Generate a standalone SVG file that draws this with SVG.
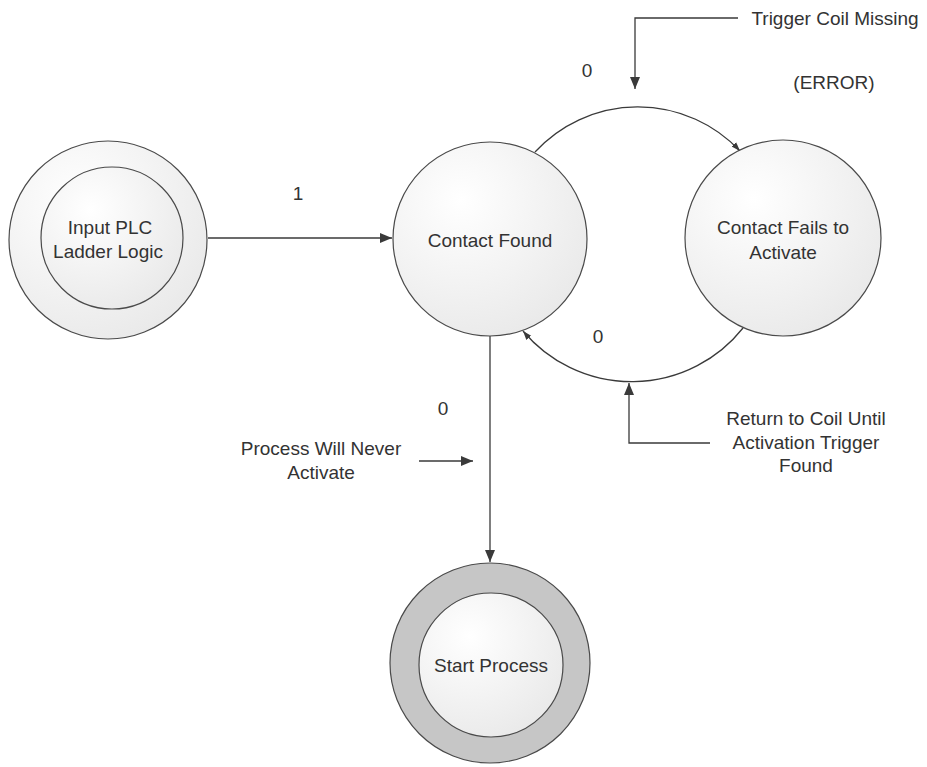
<svg xmlns="http://www.w3.org/2000/svg" width="927" height="767" viewBox="0 0 927 767">
  <defs>
    <radialGradient id="stateFill" cx="0.35" cy="0.3" r="0.8">
      <stop offset="0" stop-color="#ffffff"/>
      <stop offset="1" stop-color="#e8e8e8"/>
    </radialGradient>
    <marker id="arrow" viewBox="0 0 12 12" refX="12" refY="6" markerWidth="12" markerHeight="12" markerUnits="userSpaceOnUse" orient="auto">
      <path d="M0,1 L12,6 L0,11 Z" fill="#3a3a3a"/>
    </marker>
    <marker id="arrowSmall" viewBox="0 0 10 10" refX="10" refY="5" markerWidth="9" markerHeight="9" markerUnits="userSpaceOnUse" orient="auto">
      <path d="M0,1.5 L10,5 L0,8.5 Z" fill="#3a3a3a"/>
    </marker>
    <style>
      .state { fill: url(#stateFill); stroke: #4a4a4a; stroke-width: 1.2; }
      .ring { fill: #c6c6c6; stroke: #4a4a4a; stroke-width: 1.2; }
      .label { font-family: "Liberation Sans", Arial, sans-serif; font-size: 19px; fill: #333333; text-anchor: middle; }
      .edge { fill: none; stroke: #3a3a3a; stroke-width: 1.3; }
    </style>
  </defs>

  <rect width="927" height="767" fill="#ffffff"/>

  <!-- connectors -->
  <g id="connectors">
    <!-- Input PLC -> Contact Found -->
    <line class="edge" x1="208" y1="238" x2="392" y2="238" marker-end="url(#arrow)"/>
    <!-- Contact Found -> Contact Fails to Activate -->
    <path class="edge" d="M 535 152 A 140 140 0 0 1 740 151" marker-end="url(#arrowSmall)"/>
    <!-- Contact Fails to Activate -> Contact Found -->
    <path class="edge" d="M 743 328 A 142 142 0 0 1 523 331" marker-end="url(#arrowSmall)"/>
    <!-- Contact Found -> Start Process -->
    <line class="edge" x1="490" y1="336" x2="490" y2="562" marker-end="url(#arrow)"/>
    <!-- annotation pointers -->
    <polyline class="edge" points="738,18 635,18 635,89" marker-end="url(#arrow)"/>
    <polyline class="edge" points="710,443 629,443 629,383" marker-end="url(#arrow)"/>
    <line class="edge" x1="419" y1="461" x2="473" y2="461" marker-end="url(#arrow)"/>
  </g>

  <!-- edge labels -->
  <g id="edge-labels">
    <text class="label" x="298" y="200">1</text>
    <text class="label" x="587" y="77">0</text>
    <text class="label" x="598" y="343">0</text>
    <text class="label" x="443" y="415">0</text>
  </g>

  <!-- annotations -->
  <g id="annotations">
    <text class="label" x="835" y="25">Trigger Coil Missing</text>
    <text class="label" x="834" y="89">(ERROR)</text>
    <text class="label" x="321" y="455">Process Will Never</text>
    <text class="label" x="321" y="479">Activate</text>
    <text class="label" x="806" y="425">Return to Coil Until</text>
    <text class="label" x="806" y="449">Activation Trigger</text>
    <text class="label" x="806" y="472">Found</text>
  </g>

  <g id="node-input">
    <circle class="state" cx="108" cy="240" r="99"/>
    <circle class="state" cx="112" cy="238" r="71"/>
    <text class="label" x="110" y="234">Input PLC</text>
    <text class="label" x="108" y="258">Ladder Logic</text>
  </g>

  <g id="node-contact-found">
    <circle class="state" cx="490" cy="239" r="97"/>
    <text class="label" x="490" y="247">Contact Found</text>
  </g>

  <g id="node-contact-fails">
    <circle class="state" cx="783" cy="238" r="98"/>
    <text class="label" x="783" y="234">Contact Fails to</text>
    <text class="label" x="783" y="259">Activate</text>
  </g>

  <g id="node-start">
    <circle class="ring" cx="490" cy="663" r="100"/>
    <circle class="state" cx="491" cy="665" r="72"/>
    <text class="label" x="491" y="672">Start Process</text>
  </g>
</svg>
